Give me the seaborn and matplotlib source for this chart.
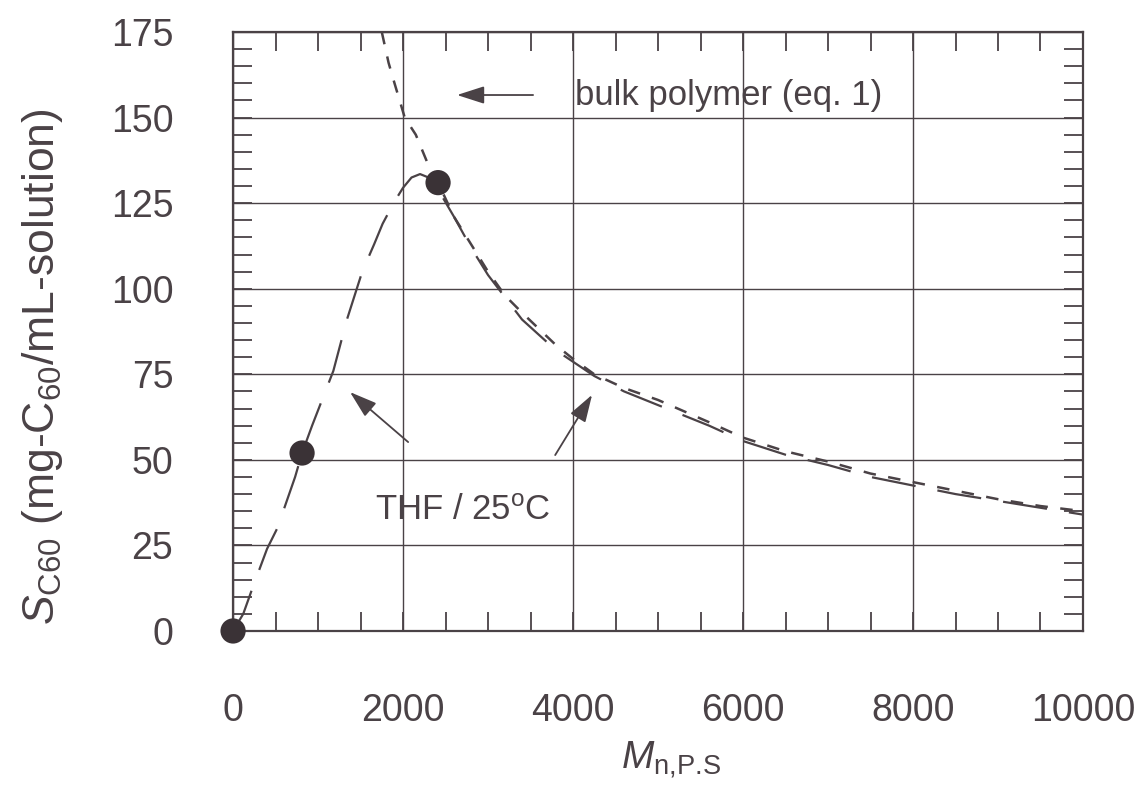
import matplotlib
matplotlib.use('Agg')
import matplotlib.pyplot as plt
import seaborn as sns
from matplotlib.ticker import MultipleLocator

# data
point_m = [0, 812, 2412]
point_s = [0, 52, 131]

# THF / 25 C curve (long dashes)
thf_m = [0, 120, 235, 400, 520, 730, 812, 930, 1180, 1340, 1520, 1660, 1760, 1900,
         2000, 2100, 2200, 2300, 2400, 2600, 2800, 3000, 3400, 3800, 4250, 4600,
         5000, 5600, 6000, 6500, 7000, 7500, 8000, 8500, 9000, 9500, 10000]
thf_s = [0, 5, 13, 24, 30, 45, 52, 60, 76, 91, 105, 113, 119, 125.5,
         129.5, 132.5, 133.5, 132.5, 129.5, 121, 112, 104, 91, 82, 74.5, 70,
         66, 60, 55.5, 51.5, 48.5, 45, 42.5, 40, 38, 36, 34]

# bulk polymer, eq. 1 (short dashes)
bulk_m = [1750, 1830, 1900, 2020, 2150, 2300, 2412, 2600, 2800, 3000, 3200, 3400,
          3800, 4000, 4250, 4600, 5000, 5600, 6000, 6500, 7000, 7500, 8000, 8500,
          9000, 9500, 10000]
bulk_s = [175, 166, 160, 150, 145, 136, 131, 121, 113, 105, 98, 93,
          83.5, 79.5, 75, 71, 67.5, 61, 56.5, 52.5, 49.5, 46, 43.5, 41,
          38.5, 36.5, 35]

x_ticks = [0, 2000, 4000, 6000, 8000, 10000]
y_ticks = [0, 25, 50, 75, 100, 125, 150, 175]

INK = '#4a4246'

sns.set_theme(style='white')
plt.rcParams['font.family'] = ['Liberation Sans', 'DejaVu Sans']
plt.rcParams['mathtext.fontset'] = 'custom'
plt.rcParams['mathtext.rm'] = 'Liberation Sans'
plt.rcParams['mathtext.it'] = 'Liberation Sans:italic'

fig = plt.figure(figsize=(11.43, 7.91), dpi=100)
ax = fig.add_axes([0.2039, 0.2023, 0.7436, 0.7572])

sns.lineplot(x=thf_m, y=thf_s, ax=ax, color=INK, lw=1.6, sort=False, errorbar=None)
ax.lines[-1].set_dashes((20, 10))
sns.lineplot(x=bulk_m, y=bulk_s, ax=ax, color=INK, lw=1.8, sort=False, errorbar=None)
ax.lines[-1].set_dashes((5, 5))
sns.scatterplot(x=point_m, y=point_s, ax=ax, color='#3a3236', s=330,
                edgecolor='none', zorder=5, clip_on=False)

ax.set_xlim(0, 10000)
ax.set_ylim(0, 175)
ax.set_xticks(x_ticks)
ax.set_yticks(y_ticks)
ax.xaxis.set_minor_locator(MultipleLocator(500))
ax.yaxis.set_minor_locator(MultipleLocator(5))
ax.grid(True, which='major', color=INK, lw=1.0)
ax.tick_params(which='both', direction='in', top=True, right=True, bottom=True,
               left=True, color=INK, width=1.3, length=14)
ax.tick_params(axis='x', which='major', pad=45, labelsize=27, labelcolor=INK)
ax.tick_params(axis='y', which='major', pad=43, labelsize=27, labelcolor=INK)
for sp in ax.spines.values():
    sp.set_color(INK)
    sp.set_linewidth(1.6)

ax.set_xlabel(r'$M_{\mathrm{n{,}P{.}\!S}}$', fontsize=28, color=INK)
ax.xaxis.set_label_coords(0.515, -0.18)
ax.set_ylabel(r'$S_{\mathrm{C60}}$ (mg-C$_{60}$/mL-solution)', fontsize=32, color=INK)
ax.yaxis.set_label_coords(-0.198, 0.442)

ax.text(4024, 156.6, 'bulk polymer (eq. 1)', fontsize=25, color=INK, va='center')
ax.text(1670, 35.3, r'THF / 25$^{\mathrm{o}}$C', fontsize=25, color=INK, va='center')

arrow = dict(arrowstyle='-|>,head_length=1.4,head_width=0.45', color=INK, lw=1.3,
             shrinkA=0, shrinkB=0)
ax.annotate('', xy=(2635, 156.6), xytext=(3530, 156.6), arrowprops=arrow)
ax.annotate('', xy=(1376, 69.8), xytext=(2060, 55.2), arrowprops=arrow)
ax.annotate('', xy=(4224, 69.0), xytext=(3790, 51.4), arrowprops=arrow)

fig.savefig('out.png', dpi=100, facecolor='white')
